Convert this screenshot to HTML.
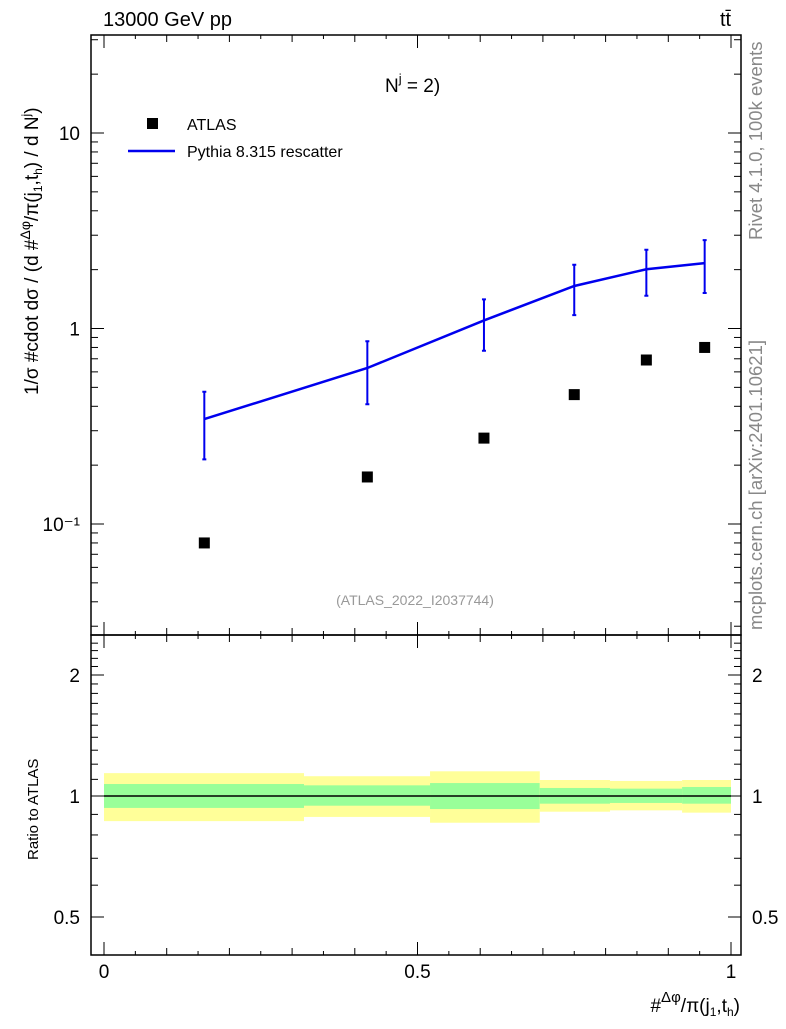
<!DOCTYPE html>
<html><head><meta charset="utf-8"><style>
body{margin:0;background:#fff;}
svg{font-family:"Liberation Sans",sans-serif;}
</style></head><body>
<svg id="c" width="786" height="1024" viewBox="0 0 786 1024">
<g id="bands"></g>
<g id="axes"></g>
<g id="marks"></g>
<text x="103" y="26" font-size="20">13000 GeV pp</text>
<text x="720" y="26" font-size="20">tt̄</text>
<text x="385" y="92" font-size="19">N<tspan dy="-9" font-size="13">j</tspan><tspan dy="9"> = 2)</tspan></text>
<rect x="147" y="118" width="11" height="11" fill="#000"/>
<text x="187" y="130" font-size="16">ATLAS</text>
<line x1="128" y1="151" x2="175" y2="151" stroke="#0000ee" stroke-width="2.5"/>
<text x="187" y="157" font-size="16">Pythia 8.315 rescatter</text>
<text x="415" y="605" font-size="14" fill="#999" text-anchor="middle">(ATLAS_2022_I2037744)</text>
<text transform="translate(762,240) rotate(-90)" font-size="18.5" fill="#888">Rivet 4.1.0,  100k events</text>
<text transform="translate(762,630) rotate(-90)" font-size="18.5" fill="#888">mcplots.cern.ch [arXiv:2401.10621]</text>
<text transform="translate(38,395) rotate(-90)" font-size="19">1/σ #cdot dσ / (d #<tspan font-size="14" dy="-8">Δφ</tspan><tspan dy="8">/π</tspan>(j<tspan font-size="12" dy="4">1</tspan><tspan dy="-4">,t</tspan><tspan font-size="12" dy="4">h</tspan><tspan dy="-4">) / d N</tspan><tspan font-size="12" dy="-8">j</tspan><tspan dy="8">)</tspan></text>
<text transform="translate(38,860) rotate(-90)" font-size="15">Ratio to ATLAS</text>
<text x="740" y="1012" font-size="19" text-anchor="end">#<tspan font-size="15" dy="-10">Δφ</tspan><tspan dy="10">/π(j</tspan><tspan font-size="12" dy="4">1</tspan><tspan dy="-4">,t</tspan><tspan font-size="12" dy="4">h</tspan><tspan dy="-4">)</tspan></text>
</svg>
<script>
const xCenters=[0.16,0.42,0.606,0.75,0.865,0.958];
const binEdges=[0,0.319,0.52,0.695,0.807,0.922,1.0];
const atlasVals=[0.080,0.174,0.275,0.459,0.69,0.80];
const mcVals=[0.344,0.628,1.10,1.65,2.01,2.16];
const mcHi=[0.475,0.86,1.41,2.12,2.53,2.83];
const mcLo=[0.214,0.41,0.77,1.17,1.47,1.52];
const yellowHi=[1.14,1.12,1.152,1.096,1.09,1.096];
const yellowLo=[0.866,0.887,0.858,0.914,0.921,0.909];
const greenHi=[1.071,1.063,1.077,1.047,1.043,1.053];
const greenLo=[0.934,0.946,0.928,0.957,0.961,0.957];
const yTicksMain=[0.1,1,10];
const yTickLabels=["10⁻¹","1","10"];
const ratioTicks=[0.5,1,2];
const ratioLabels=["0.5","1","2"];
const xTicks=[0,0.5,1];
const xTickLabels=["0","0.5","1"];

const NS="http://www.w3.org/2000/svg";
const L=91,R=741,T=35,MB=635,RB=955;
const X=v=>104+v*627;
const Y=v=>133-(Math.log10(v)-1)*195.5;
const YR=v=>796-Math.log2(v)*121;
function mk(p,tag,a){const e=document.createElementNS(NS,tag);for(const k in a)e.setAttribute(k,a[k]);p.appendChild(e);return e;}
const bands=document.getElementById('bands'),axes=document.getElementById('axes'),marks=document.getElementById('marks');

for(let i=0;i<yellowHi.length;i++){
 const x1=X(binEdges[i]),x2=X(binEdges[i+1]);
 const y=mk(bands,'rect',{x:x1,y:YR(yellowHi[i]),width:x2-x1,height:YR(yellowLo[i])-YR(yellowHi[i]),fill:'#ffff99'});
 
 
 const g=mk(bands,'rect',{x:x1,y:YR(greenHi[i]),width:x2-x1,height:YR(greenLo[i])-YR(greenHi[i]),fill:'#99ff99'});
 
 
}
const ref=mk(bands,'line',{x1:X(binEdges[0]),x2:X(binEdges[binEdges.length-1]),y1:YR(1),y2:YR(1),stroke:'#000','stroke-width':1.5});



const f1=mk(axes,'rect',{x:L,y:T,width:R-L,height:MB-T,fill:'none',stroke:'#000','stroke-width':1.5});


const f2=mk(axes,'rect',{x:L,y:MB,width:R-L,height:RB-MB,fill:'none',stroke:'#000','stroke-width':1.5});


for(let d=-2;d<=1;d++){for(let m=1;m<=9;m++){const v=m*Math.pow(10,d);const y=Y(v);if(y<T||y>MB)continue;const len=m==1?13:7;
 mk(axes,'line',{x1:L,x2:L+len,y1:y,y2:y,stroke:'#000'});mk(axes,'line',{x1:R,x2:R-len,y1:y,y2:y,stroke:'#000'});}}
yTicksMain.forEach((v,i)=>{const t=mk(axes,'text',{x:80,y:Y(v)+7,'font-size':19,'text-anchor':'end'});t.textContent=yTickLabels[i];
 
 });
for(let v=0.4;v<=2.5;v+=0.1){const y=YR(v);if(y<MB||y>RB)continue;const major=ratioTicks.some(r=>Math.abs(r-v)<1e-6);const len=major?13:7;
 mk(axes,'line',{x1:L,x2:L+len,y1:y,y2:y,stroke:'#000'});mk(axes,'line',{x1:R,x2:R-len,y1:y,y2:y,stroke:'#000'});}
ratioTicks.forEach((v,i)=>{[80,752].forEach((x,j)=>{const t=mk(axes,'text',{x:x,y:YR(v)+7,'font-size':19,'text-anchor':j?'start':'end'});t.textContent=ratioLabels[i];
 
 });});
for(let k=0;k<=20;k++){const v=k*0.05;const x=X(v);const len=k%10==0?13:(k%2==0?7:4);
 [[T,1],[MB,-1],[MB,1],[RB,-1]].forEach(([y0,s])=>mk(axes,'line',{x1:x,x2:x,y1:y0,y2:y0+s*len,stroke:'#000'}));}
xTicks.forEach((v,i)=>{const t=mk(axes,'text',{x:X(v),y:978,'font-size':19,'text-anchor':'middle'});t.textContent=xTickLabels[i];
 
 });

const pl=mk(marks,'polyline',{points:xCenters.map((x,i)=>X(x)+','+Y(mcVals[i])).join(' '),fill:'none',stroke:'#0000ee','stroke-width':2.5});


xCenters.forEach((x,i)=>{
 const e=mk(marks,'path',{d:`M${X(x)},${Y(mcHi[i])}V${Y(mcLo[i])}M${X(x)-2},${Y(mcHi[i])}h4M${X(x)-2},${Y(mcLo[i])}h4`,stroke:'#0000ee','stroke-width':2,fill:'none'});
 
 
 const p=mk(marks,'rect',{x:X(x)-5.5,y:Y(atlasVals[i])-5.5,width:11,height:11,fill:'#000'});
 
 
});
</script>
</body></html>
